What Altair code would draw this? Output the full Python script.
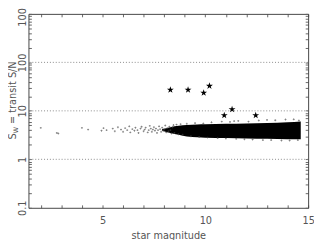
import altair as alt
import pandas as pd

# dense core of the star cloud (lower / upper edge of the black band)
band_mag = [7.9, 8.3, 8.7, 9.1, 9.6, 10.0, 11.0, 12.0, 13.0, 14.0, 14.64]
band_hi = [4.2, 4.6, 4.9, 5.1, 5.25, 5.3, 5.4, 5.5, 5.6, 5.8, 6.0]
band_lo = [3.9, 3.5, 3.2, 2.95, 2.85, 2.8, 2.75, 2.7, 2.65, 2.6, 2.6]

# individual (sparse) stars
pt_mag = [2.0, 2.78, 2.85, 4.0, 4.3, 4.95, 5.05, 5.2, 5.5, 5.6, 5.75, 5.9, 6.0, 6.1,
          6.2, 6.3, 6.35, 6.45, 6.55, 6.6, 6.7, 6.75, 6.85, 6.9, 7.0, 7.05, 7.1, 7.2,
          7.25, 7.3, 7.35, 7.4, 7.45, 7.5, 7.55, 7.6, 7.65, 7.7, 7.75, 7.8, 7.85, 7.9,
          7.95, 8.0, 8.05, 8.1, 8.15, 8.2, 8.25, 8.3, 8.35, 8.4, 8.45, 8.5, 8.6, 8.7,
          8.8, 8.9, 9.1, 9.3, 9.5, 9.7, 9.9, 10.1, 10.3, 10.6, 10.8, 11.0, 11.2, 11.4,
          11.5, 11.6, 11.9, 12.1, 12.3, 12.6, 12.8, 13.0, 13.2, 13.4, 13.7, 13.9, 14.1,
          14.3, 14.5, 14.55]
pt_sn = [4.45, 3.5, 3.4, 4.45, 4.1, 3.9, 4.4, 4.0, 4.3, 3.8, 4.6, 4.1, 3.7, 4.4,
         4.0, 4.8, 3.6, 4.2, 3.9, 4.5, 4.0, 3.5, 4.3, 4.7, 3.8, 4.1, 4.5, 3.6,
         4.0, 4.9, 4.3, 3.7, 4.1, 4.6, 3.9, 4.3, 3.5, 4.0, 4.8, 4.2, 3.7, 4.5,
         3.9, 4.1, 5.0, 3.6, 4.4, 3.8, 4.7, 4.0, 3.4, 4.6, 5.1, 3.5, 5.2, 3.3,
         5.3, 3.2, 5.4, 3.0, 5.6, 2.9, 5.5, 2.8, 5.8, 2.75, 6.0, 2.7, 5.9, 6.15,
         2.65, 6.2, 2.6, 6.0, 2.55, 6.3, 2.5, 6.5, 2.5, 6.4, 2.45, 6.6, 2.45,
         6.7, 2.5, 6.3]

# detected transits (stars)
tr_mag = [8.3, 9.16, 9.92, 10.2, 10.92, 11.3, 12.45]
tr_sn = [27, 27, 23.6, 32.6, 8.1, 10.7, 8.1]

grid_vals = [1, 10, 100]
x_ticks = list(range(2, 16))
y_ticks = [0.1, 0.2, 0.3, 0.4, 0.5, 0.6, 0.7, 0.8, 0.9,
           1, 2, 3, 4, 5, 6, 7, 8, 9,
           10, 20, 30, 40, 50, 60, 70, 80, 90,
           100, 200, 300, 400, 500, 600, 700, 800, 900, 1000]

band = pd.DataFrame({"mag": band_mag, "hi": band_hi, "lo": band_lo})
pts = pd.DataFrame({"mag": pt_mag, "sn": pt_sn})
trs = pd.DataFrame({"mag": tr_mag, "sn": tr_sn})
grid = pd.DataFrame({"g": grid_vals})

FONT = "DejaVu Sans"
TXT = "#555555"
xs = alt.Scale(domain=[1.4, 15], nice=False, zero=False)
ys = alt.Scale(type="log", domain=[0.1, 1000], nice=False)

lab_y = "(datum.value==0.1||datum.value==1||datum.value==10||datum.value==100||datum.value==1000) ? format(datum.value,'~g') : ''"
lab_x = "datum.value % 5 == 0 ? datum.label : ''"

ax_bottom = alt.Axis(orient="bottom", values=x_ticks, labelExpr=lab_x, tickSize={"expr": "-3"},
                     grid=False, title="star magnitude", labelFlush=False, labelPadding=11,
                     titlePadding=6)
ax_left = alt.Axis(orient="left", values=y_ticks, labelExpr=lab_y, tickSize={"expr": "-3"},
                   grid=False, title=None, labelAngle=270, labelAlign="center",
                   labelBaseline="bottom", labelPadding=4, labelBound=False)
ax_top = alt.Axis(orient="top", values=x_ticks, labels=False, tickSize={"expr": "-3"},
                  grid=False, title=None)
ax_right = alt.Axis(orient="right", values=y_ticks, labels=False, tickSize={"expr": "-3"},
                    grid=False, title=None)

band_layer = alt.Chart(band).mark_area(color="black", interpolate="monotone").encode(
    x=alt.X("mag:Q", scale=xs, axis=ax_bottom),
    y=alt.Y("lo:Q", scale=ys, axis=ax_left),
    y2="hi:Q",
)

grid_layer = alt.Chart(grid).mark_rule(color="#888888", strokeDash=[1, 2], strokeWidth=1).encode(
    y=alt.Y("g:Q", scale=ys, axis=ax_right),
)

pts_layer = alt.Chart(pts).mark_point(shape="cross", size=4, filled=True, color="#444444").encode(
    x=alt.X("mag:Q", scale=xs, axis=ax_top),
    y=alt.Y("sn:Q", scale=ys, axis=None),
)

STAR = "M0,-1L0.2245,-0.309L0.951,-0.309L0.3633,0.118L0.5878,0.809L0,0.382L-0.5878,0.809L-0.3633,0.118L-0.951,-0.309L-0.2245,-0.309Z"
tr_layer = alt.Chart(trs).mark_point(shape=STAR, size=55, filled=True, color="black", opacity=1).encode(
    x=alt.X("mag:Q", scale=xs, axis=None),
    y=alt.Y("sn:Q", scale=ys, axis=None),
)

one = alt.Data(values=[{}])
t_s = alt.Chart(one).mark_text(text="S", angle=270, align="left", baseline="middle",
                               font=FONT, fontSize=10, color=TXT).encode(
    x=alt.value(-16), y=alt.value(129))
t_w = alt.Chart(one).mark_text(text="W", angle=270, align="left", baseline="middle",
                               font=FONT, fontSize=6.5, color=TXT).encode(
    x=alt.value(-13), y=alt.value(122.5))
t_rest = alt.Chart(one).mark_text(text="= transit S/N", angle=270, align="left", baseline="middle",
                                  font=FONT, fontSize=10, color=TXT).encode(
    x=alt.value(-16), y=alt.value(113))

chart = alt.layer(band_layer, grid_layer, pts_layer, tr_layer, t_s, t_w, t_rest).resolve_axis(
    x="independent", y="independent"
).properties(
    width=287, height=199,
    autosize=alt.AutoSizeParams(type="none"),
    padding={"left": 21, "top": 3, "right": 6, "bottom": 30},
).configure_view(stroke=None).configure_axis(
    labelFont=FONT, titleFont=FONT, labelFontSize=10, titleFontSize=10,
    labelColor=TXT, titleColor=TXT, titleFontWeight="normal",
    domainColor="#444444", tickColor="#666666", domainWidth=1, tickWidth=1,
)

chart.save("out.html", embed_options={"renderer": "svg", "actions": False})
